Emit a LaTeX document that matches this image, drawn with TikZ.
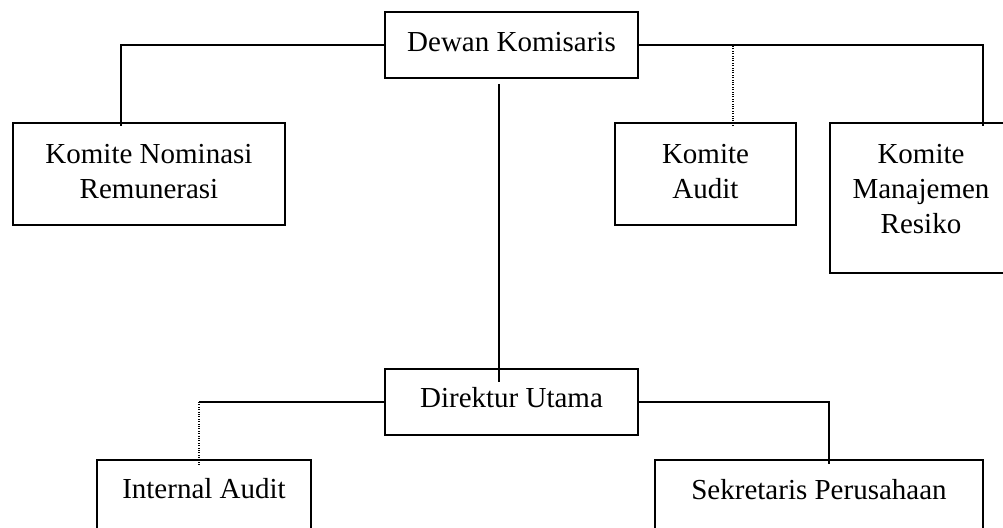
\documentclass[tikz,border=0pt]{standalone}
\usepackage{fontspec}
\setmainfont{Liberation Serif}
\usetikzlibrary{calc}
\begin{document}
\begin{tikzpicture}[x=0.75pt,y=-0.75pt,
  box/.style={draw, line width=1.2pt, rectangle, inner sep=0pt},
  lbl/.style={font=\fontsize{21.75pt}{26.25pt}\selectfont, align=center, inner sep=0pt},
  link/.style={line width=1.2pt},
  dotlink/.style={line width=0.8pt, densely dotted}]
\useasboundingbox (0,0) rectangle (1003,528);

% boxes
\node[box, minimum width=189.75pt, minimum height=49.5pt] (dk) at (511.5,45) {};
\node[box, minimum width=189.75pt, minimum height=49.5pt] (du) at (511.5,402) {};
\node[box, minimum width=204pt, minimum height=76.5pt] (kn) at (149,174) {};
\node[box, minimum width=135.75pt, minimum height=76.5pt] (ka) at (705.5,174) {};
\node[box, minimum width=136.5pt, minimum height=112.5pt] (kmr) at (921,198) {};
\node[box, minimum width=160.5pt, minimum height=75pt] (ia) at (204,510) {};
\node[box, minimum width=246pt, minimum height=75pt] (sp) at (819,510) {};

% labels
\node[lbl] (dk-t) at (511.5,42) {Dewan Komisaris};
\node[lbl] (du-t) at (511.5,398) {Direktur Utama};
\node[lbl] (kn-t) at (149,172) {Komite Nominasi\\Remunerasi};
\node[lbl] (ka-t) at (705.5,172) {Komite\\Audit};
\node[lbl] (kmr-t) at (921,189.5) {Komite\\Manajemen\\Resiko};
\node[lbl] (ia-t) at (204,489) {Internal Audit};
\node[lbl] (sp-t) at (819,490) {Sekretaris Perusahaan};

% connectors from Dewan Komisaris
\draw[link] (dk.west) -| ($(kn.north)+(-28,4)$);
\draw[link] (dk.east) -| ($(kmr.north)+(62,4)$);
\coordinate (ka-in) at ($(ka.north)+(27.5,4)$);
\draw[dotlink] (ka-in) -- (ka-in |- dk.east);
\draw[link] ($(dk.south)+(-12.5,5)$) -- ($(du.north)+(-12.5,14)$);

% connectors from Direktur Utama
\coordinate (ia-in) at ($(ia.north)+(-5,7)$);
\draw[link] (du.west) -- (du.west -| ia-in);
\draw[dotlink] (du.west -| ia-in) -- (ia-in);
\draw[link] (du.east) -| ($(sp.north)+(10,5)$);
\end{tikzpicture}
\end{document}
